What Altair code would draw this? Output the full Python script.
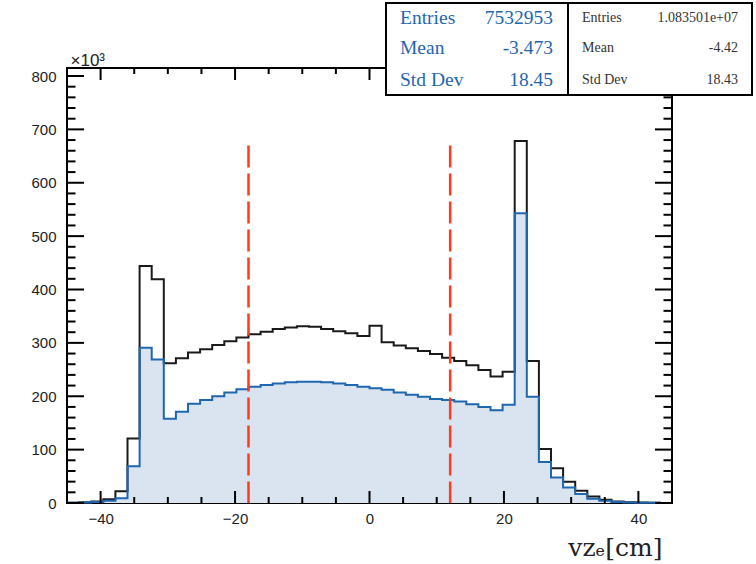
import altair as alt
import pandas as pd

# 50 bins of 1.8 cm between -45 and 45 cm (counts in thousands)
x_min, x_max, n_bins = -45.0, 45.0, 50
all_counts = [
    0.5, 1.5, 3, 7, 22, 121, 444, 419, 262, 271,
    282, 288, 296, 303, 310, 316, 321, 326, 329, 331,
    330, 326, 322, 318, 313, 332, 301, 295, 290, 285,
    279, 272, 266, 258, 249, 237, 246, 678, 266, 101,
    65, 40, 23, 12, 6, 3, 1.5, 0.8, 0.4, 0.2,
]
sel_counts = [
    0.3, 1, 2, 4, 9, 69, 291, 269, 158, 171,
    186, 193, 200, 207, 213, 218, 221, 224, 226, 227,
    227, 226, 224, 221, 218, 215, 212, 207, 203, 199,
    195, 193, 190, 185, 180, 174, 184, 543, 199, 77,
    48, 29, 17, 8, 4, 2, 1, 0.5, 0.3, 0.2,
]
cut_positions = [-18, 12]
cut_top = 670

x_tick_labels = [-40, -20, 0, 20, 40]
y_tick_labels = [0, 100, 200, 300, 400, 500, 600, 700, 800]
x_minor_step, y_minor_step = 5, 20

stat_names = ["Entries", "Mean", "Std Dev"]
sel_stats = ["7532953", "-3.473", "18.45"]
all_stats = ["1.083501e+07", "-4.42", "18.43"]

W, H = 605, 435
Y_MAX = 815
BLUE = "#1f66b0"
FILL = "#dae4f1"
RED = "#ff3b1c"

width_bin = (x_max - x_min) / n_bins
edges = [x_min + i * width_bin for i in range(n_bins + 1)]


def step_frame(counts):
    # left edge of every bin, plus the last right edge to close the step
    return pd.DataFrame({"x": edges[:], "y": list(counts) + [counts[-1]]})


xs = alt.Scale(domain=[x_min, x_max], nice=False, zero=False)
ys = alt.Scale(domain=[0, Y_MAX], nice=False)

fill = alt.Chart(step_frame(sel_counts)).mark_area(
    interpolate="step-after", color=FILL, opacity=1
).encode(
    x=alt.X("x:Q", scale=xs, axis=alt.Axis(values=x_tick_labels, title="vzₑ[cm]",
                                           labelPadding=8, titleAlign="right",
                                           titleX=595, titleY=52, titleBaseline="alphabetic",
                                           titleFont="DejaVu Serif", titleFontSize=25,
                                           titleFontWeight="normal", titleColor="#222")),
    y=alt.Y("y:Q", scale=ys, axis=alt.Axis(values=y_tick_labels, title="×10³",
                                           labelPadding=11, titleAngle=0, titleAlign="left",
                                           titleX=3, titleY=-3, titleBaseline="alphabetic",
                                           titleFont="Liberation Sans", titleFontSize=17,
                                           titleFontWeight="normal", titleColor="#222")),
    y2=alt.datum(0),
)

line_all = alt.Chart(step_frame(all_counts)).mark_line(
    interpolate="step-after", color="#1a1a1a", strokeWidth=2
).encode(x=alt.X("x:Q", scale=xs), y=alt.Y("y:Q", scale=ys))

line_sel = alt.Chart(step_frame(sel_counts)).mark_line(
    interpolate="step-after", color=BLUE, strokeWidth=2
).encode(x=alt.X("x:Q", scale=xs), y=alt.Y("y:Q", scale=ys))

cuts = alt.Chart(pd.DataFrame({"c": cut_positions, "top": cut_top})).mark_rule(
    color=RED, strokeWidth=2.5, strokeDash=[22, 6]
).encode(x=alt.X("c:Q", scale=xs), y=alt.Y("top:Q", scale=ys), y2=alt.datum(0))

# inward ticks on all four sides of the frame
x_major = x_tick_labels
x_minor = [v for v in range(-45, 46, x_minor_step) if v not in x_major and x_min < v < x_max]
y_major = y_tick_labels
y_minor = [v for v in range(0, Y_MAX, y_minor_step) if v not in y_major]


def vticks(values, length):
    d = pd.DataFrame({"v": values})
    bottom = alt.Chart(d).mark_rule(color="black", strokeWidth=2).encode(
        x=alt.X("v:Q", scale=xs), y=alt.value(H), y2=alt.value(H - length))
    top = alt.Chart(d).mark_rule(color="black", strokeWidth=2).encode(
        x=alt.X("v:Q", scale=xs), y=alt.value(0), y2=alt.value(length))
    return [bottom, top]


def hticks(values, length):
    d = pd.DataFrame({"v": values})
    left = alt.Chart(d).mark_rule(color="black", strokeWidth=2).encode(
        y=alt.Y("v:Q", scale=ys), x=alt.value(0), x2=alt.value(length))
    right = alt.Chart(d).mark_rule(color="black", strokeWidth=2).encode(
        y=alt.Y("v:Q", scale=ys), x=alt.value(W), x2=alt.value(W - length))
    return [left, right]


ticks = vticks(x_major, 12) + vticks(x_minor, 6) + hticks(y_major, 17) + hticks(y_minor, 8.5)

# statistics boxes above the top-right corner of the frame
box_top, box_bottom = -65, 27
box1_l, box1_r, box2_r = 319, 501, 685
row_y = [-50, -20, 12]


def stats_box(left, right, names, vals, color, size, pad_l, pad_r):
    rect = alt.Chart(pd.DataFrame({"k": [0]})).mark_rect(
        fill="white", stroke="black", strokeWidth=2
    ).encode(x=alt.value(left), x2=alt.value(right), y=alt.value(box_top), y2=alt.value(box_bottom))
    layers = [rect]
    for name, val, yy in zip(names, vals, row_y):
        layers.append(alt.Chart(pd.DataFrame({"t": [name]})).mark_text(
            align="left", baseline="middle", font="Liberation Serif", fontSize=size, color=color
        ).encode(x=alt.value(left + pad_l), y=alt.value(yy), text="t:N"))
        layers.append(alt.Chart(pd.DataFrame({"t": [val]})).mark_text(
            align="right", baseline="middle", font="Liberation Serif", fontSize=size, color=color
        ).encode(x=alt.value(right - pad_r), y=alt.value(yy), text="t:N"))
    return layers


boxes = stats_box(box1_l, box1_r, stat_names, sel_stats, BLUE, 19.5, 14, 15) + \
    stats_box(box1_r, box2_r, stat_names, all_stats, "#333333", 14, 14, 14)

chart = alt.layer(fill, line_all, line_sel, cuts, *ticks, *boxes).properties(
    width=W, height=H,
    autosize=alt.AutoSizeParams(type="none"),
    padding={"left": 67, "top": 68, "right": 84, "bottom": 61},
).configure_view(
    stroke="black", strokeWidth=2
).configure_axis(
    grid=False, ticks=False, tickSize=0, domain=False,
    labelFont="Liberation Sans", labelFontSize=15, labelColor="#222",
)

chart.save("out.html", embed_options={"renderer": "svg", "actions": False})
